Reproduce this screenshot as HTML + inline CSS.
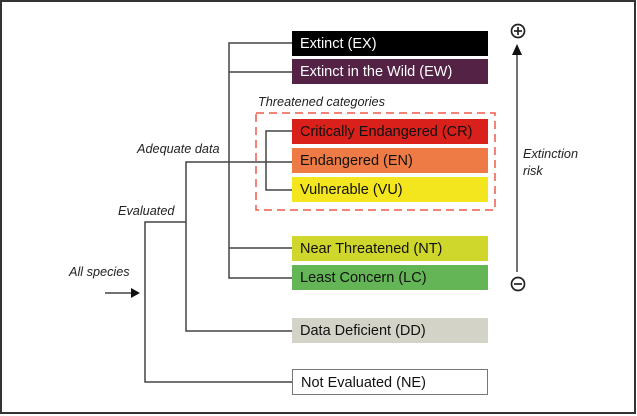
<!DOCTYPE html>
<html><head><meta charset="utf-8"><style>
body{margin:0;width:637px;height:416px;background:#fff;position:relative;overflow:hidden;font-family:"Liberation Sans",sans-serif}
.frame{position:absolute;left:0;top:0;width:632px;height:410px;border:2px solid #333}
.b{position:absolute;left:292px;width:196px;height:25px;font-size:14.5px;line-height:16px;padding-left:8px;padding-top:1px;box-sizing:border-box;color:#111;white-space:nowrap;display:flex;align-items:center}
.l{position:absolute;font-size:12.7px;font-style:italic;color:#222}
</style></head><body>
<div class="frame"></div>
<svg width="637" height="416" style="position:absolute;left:0;top:0">
<g stroke="#444" stroke-width="1.5" fill="none">
<polyline points="292,43 229,43 229,278 292,278"/>
<line x1="229" y1="72" x2="292" y2="72"/>
<line x1="229" y1="248" x2="292" y2="248"/>
<polyline points="292,131 266,131 266,190 292,190"/>
<polyline points="292,162 186,162 186,331 292,331"/>
<polyline points="186,222 145,222 145,382 292,382"/>
<line x1="105" y1="293" x2="133" y2="293"/>
<line x1="517" y1="52" x2="517" y2="272"/>
</g>
<polygon points="140,293 131,288 131,298" fill="#111"/>
<polygon points="517,44 512,55 522,55" fill="#111"/>
<rect x="256" y="113" width="239" height="97" fill="none" stroke="#ee5a4a" stroke-width="1.5" stroke-dasharray="8,5"/>
<g stroke="#222" stroke-width="1.7" fill="none">
<circle cx="518" cy="31" r="6.5"/><line x1="514" y1="31" x2="522" y2="31"/><line x1="518" y1="27" x2="518" y2="35"/>
<circle cx="518" cy="284" r="6.5"/><line x1="514" y1="284" x2="522" y2="284"/>
</g>
</svg>
<div class="b" style="top:31px;background:#000;color:#fff">Extinct (EX)</div>
<div class="b" style="top:59px;background:#532244;color:#fff">Extinct in the Wild (EW)</div>
<div class="b" style="top:119px;background:#d9201a">Critically Endangered (CR)</div>
<div class="b" style="top:148px;background:#ee7b45">Endangered (EN)</div>
<div class="b" style="top:177px;background:#f3e51e">Vulnerable (VU)</div>
<div class="b" style="top:236px;background:#cfd72c">Near Threatened (NT)</div>
<div class="b" style="top:265px;background:#63b556">Least Concern (LC)</div>
<div class="b" style="top:318px;background:#d4d3c8">Data Deficient (DD)</div>
<div class="b" style="top:369px;height:26px;background:#fff;border:1.5px solid #777">Not Evaluated (NE)</div>
<div class="l" style="left:258px;top:95px">Threatened categories</div>
<div class="l" style="left:137px;top:142px">Adequate data</div>
<div class="l" style="left:118px;top:204px">Evaluated</div>
<div class="l" style="left:69px;top:265px">All species</div>
<div class="l" style="left:523px;top:146px;line-height:17px">Extinction<br>risk</div>
</body></html>
